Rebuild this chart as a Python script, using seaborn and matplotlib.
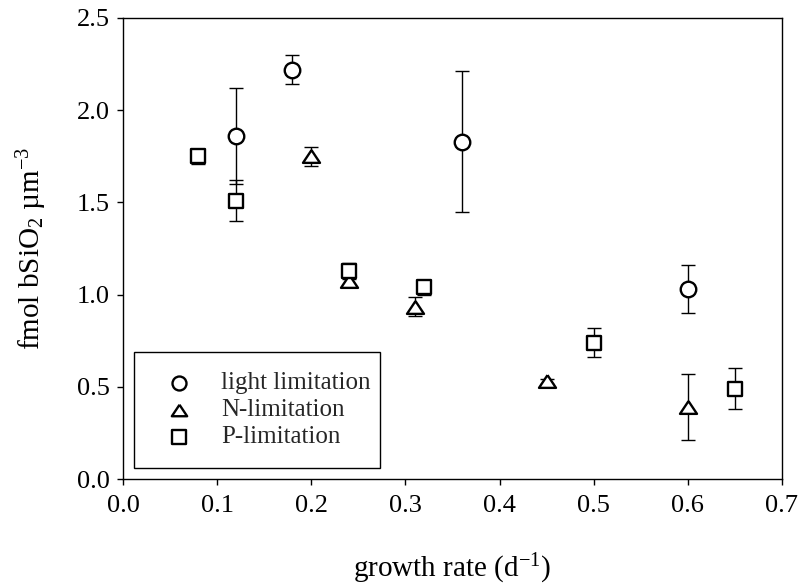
import numpy as np
import pandas as pd
import matplotlib
matplotlib.use("Agg")
import matplotlib.pyplot as plt
from matplotlib.patches import Rectangle
import seaborn as sns

# ---- data ----
light_x = [0.12, 0.18, 0.36, 0.60]
light_y = [1.86, 2.22, 1.83, 1.03]
light_err = [0.26, 0.08, 0.38, 0.13]

n_x = [0.20, 0.24, 0.31, 0.45, 0.60]
n_y = [1.75, 1.075, 0.935, 0.53, 0.39]
n_err = [0.05, 0.03, 0.05, 0.015, 0.18]

p_x = [0.08, 0.12, 0.24, 0.32, 0.50, 0.65]
p_y = [1.75, 1.51, 1.13, 1.04, 0.74, 0.49]
p_err = [0.04, 0.11, 0.043, 0.04, 0.08, 0.11]

labels = ["light limitation", "N-limitation", "P-limitation"]
x_ticks = [0.0, 0.1, 0.2, 0.3, 0.4, 0.5, 0.6, 0.7]
y_ticks = [0.0, 0.5, 1.0, 1.5, 2.0, 2.5]

sns.set_theme(style="ticks")
plt.rcParams["font.family"] = ["Liberation Serif", "DejaVu Serif"]
plt.rcParams["mathtext.fontset"] = "custom"
plt.rcParams["mathtext.rm"] = "Liberation Serif"
plt.rcParams["mathtext.it"] = "Liberation Serif:italic"
plt.rcParams["mathtext.bf"] = "Liberation Serif:bold"

fig = plt.figure(figsize=(7.99, 5.88), dpi=100)
ax = fig.add_axes([123 / 799, 1 - 479 / 588, 659 / 799, 461 / 588])

tri = [(0, 0.75), (-1, -0.75), (1, -0.75), (0, 0.75)]
groups = [
    (light_x, light_y, light_err, "o", 125, labels[0]),
    (n_x, n_y, n_err, tri, 150, labels[1]),
    (p_x, p_y, p_err, "s", 110, labels[2]),
]

for xs, ys, es, mk, sz, lab in groups:
    df = pd.DataFrame({"x": xs, "y": ys, "err": es})
    ax.errorbar(df["x"], df["y"], yerr=df["err"], fmt="none", ecolor="black",
                elinewidth=1.0, capsize=5, capthick=1.0, zorder=2)
    sns.scatterplot(data=df, x="x", y="y", marker=mk, s=sz, color="white",
                    edgecolor="black", linewidth=1.7, label=lab, ax=ax, zorder=3)

ax.set_xlim(0, 0.7)
ax.set_ylim(0, 2.5)
ax.set_xticks(x_ticks)
ax.set_yticks(y_ticks)
ax.set_xticklabels([f"{v:.1f}" for v in x_ticks])
ax.set_yticklabels([f"{v:.1f}" for v in y_ticks])
ax.tick_params(axis="both", which="major", direction="out", length=4.5, width=1,
               labelsize=19, color="black", labelcolor="black",
               top=False, right=False)
ax.tick_params(axis="x", pad=7)
ax.tick_params(axis="y", pad=5)
for sp in ax.spines.values():
    sp.set_visible(True)
    sp.set_color("black")
    sp.set_linewidth(1.0)

ax.set_xlabel(r"growth rate (d$^{-1}$)", fontsize=21, labelpad=25, color="black")
ax.set_ylabel(r"fmol bSiO$_2$ µm$^{-3}$", fontsize=21, labelpad=20, color="black")

# legend frame (SigmaPlot-style box) and legend entries
ax.add_patch(Rectangle((0.0167, 0.0239), 0.3733, 0.2516, transform=ax.transAxes,
                       facecolor="white", edgecolor="black", linewidth=1.0, zorder=4))
leg = ax.legend(loc="upper left", bbox_to_anchor=(0.047, 0.2326), borderaxespad=0,
                frameon=False, fontsize=18, borderpad=0, handlelength=2.0,
                handletextpad=0.68, labelspacing=0.18, markerscale=0.9)
leg.set_zorder(5)

fig.savefig("out.png", dpi=100)
